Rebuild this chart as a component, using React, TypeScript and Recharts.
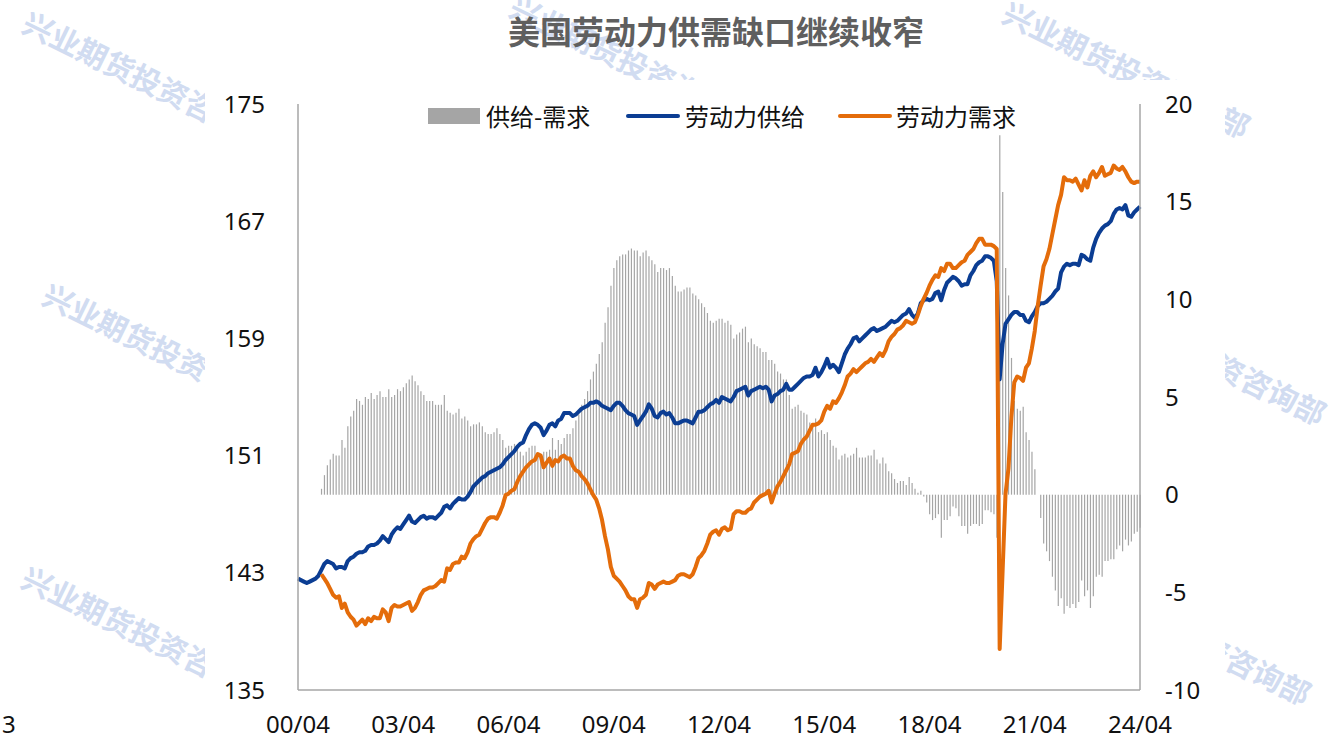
import { ComposedChart, Bar, Line, XAxis, YAxis } from 'recharts';

// monthly, 2000/04 .. 2024/04 (289 points)
const laborSupply = [
  142.6, 142.5, 142.4, 142.3, 142.4, 142.5, 142.6, 142.8, 143.2, 143.6, 143.8, 143.7,
  143.6, 143.3, 143.4, 143.4, 143.3, 143.8, 144.0, 144.1, 144.3, 144.4, 144.4, 144.5,
  144.8, 144.9, 144.9, 145.0, 145.2, 145.5, 145.3, 145.1, 145.6, 145.9, 146.1, 146.0,
  146.3, 146.6, 146.9, 146.5, 146.4, 146.6, 146.8, 146.9, 146.7, 146.8, 146.8, 146.7,
  146.9, 147.1, 147.5, 147.6, 147.4, 147.7, 147.9, 148.1, 148.0, 148.0, 148.2, 148.5,
  148.9, 149.1, 149.3, 149.5, 149.6, 149.8, 149.9, 150.0, 150.1, 150.2, 150.4, 150.7,
  150.9, 151.1, 151.3, 151.6, 151.8, 151.9, 152.4, 152.8, 153.1, 153.2, 153.1, 152.9,
  152.4, 152.7, 153.1, 153.2, 153.0, 153.4, 153.5, 153.9, 153.9, 153.9, 153.7, 153.8,
  154.0, 154.2, 154.3, 154.4, 154.6, 154.6, 154.7, 154.6, 154.4, 154.3, 154.2, 154.1,
  154.4, 154.6, 154.6, 154.4, 154.1, 153.9, 153.8, 153.7, 153.1, 153.4, 153.7, 154.0,
  154.5, 154.2, 153.7, 153.6, 153.9, 154.0, 153.8, 153.9, 153.6, 153.2, 153.2, 153.3,
  153.4, 153.4, 153.3, 153.2, 153.6, 154.0, 154.0, 154.1, 154.3, 154.5, 154.6, 154.8,
  154.6, 155.0, 154.9, 154.8, 154.7, 155.0, 155.4, 155.5, 155.6, 155.7, 155.1, 155.4,
  155.5, 155.6, 155.7, 155.6, 155.7, 155.5, 154.7, 155.1, 155.2, 155.4, 155.5, 155.9,
  155.5, 155.5, 155.7, 155.9, 156.1, 156.3, 156.4, 156.4, 156.5, 157.0, 156.4, 156.7,
  157.1, 157.6, 157.0, 157.2, 157.0, 156.7, 157.3, 157.9, 158.3, 158.6, 159.0, 159.1,
  158.8, 159.0, 159.2, 159.4, 159.6, 159.7, 159.5, 159.6, 159.7, 159.8, 160.0, 160.2,
  160.1, 160.2, 160.4, 160.6, 160.7, 161.0, 160.6, 160.4, 160.7, 161.4, 161.6, 161.7,
  161.6, 161.7, 162.1, 162.2, 161.6, 162.3, 162.8, 163.0, 163.2, 163.1, 162.9, 162.6,
  162.7, 162.7, 163.3, 163.6, 164.0, 164.2, 164.3, 164.6, 164.6, 164.5, 164.3, 162.9,
  156.2, 158.6, 160.0, 160.3, 160.6, 160.8, 160.8, 160.6, 160.6, 160.2, 160.1, 160.5,
  160.8, 161.2, 161.4, 161.4, 161.5, 161.7, 161.9, 162.2, 162.4, 163.5, 163.9, 164.1,
  164.0, 164.1, 164.1, 164.0, 164.7, 164.6, 164.4, 164.3, 165.2, 165.8, 166.2, 166.5,
  166.7, 166.8, 167.0, 167.5, 167.8, 167.9, 167.8, 168.1, 167.4, 167.3, 167.6, 167.8,
  168.0,
];

// demand and gap start at 2000/12
const demandStart = 8;
const laborDemand = [
  142.9, 142.6, 142.3, 141.9,
  141.5, 141.3, 141.4, 140.6, 140.9, 140.3, 140.0, 139.8, 139.4, 139.6, 139.8, 139.5,
  139.9, 139.7, 140.0, 139.9, 139.9, 140.5, 140.3, 139.7, 140.6, 140.8, 140.7, 140.7,
  140.8, 140.9, 141.0, 140.4, 140.6, 141.0, 141.5, 141.8, 141.9, 142.0, 142.0, 142.1,
  142.3, 142.5, 142.4, 143.3, 143.2, 143.6, 143.7, 143.7, 144.1, 144.0, 144.4, 145.0,
  145.3, 145.5, 145.6, 146.0, 146.4, 146.7, 146.8, 146.8, 146.7, 147.1, 147.6, 148.3,
  148.4, 148.6, 148.7, 149.2, 149.6, 149.9, 150.2, 150.4, 150.6, 150.7, 151.1, 151.0,
  150.2, 150.5, 150.8, 150.3, 150.7, 150.6, 150.9, 151.0, 150.8, 150.8, 150.3, 150.0,
  149.9, 149.6, 149.4, 149.1, 148.7, 148.3, 148.0, 147.4, 146.6, 145.5, 144.6, 143.4,
  142.8, 142.6, 142.4, 142.1, 141.8, 141.4, 141.2, 141.2, 140.6, 141.2, 141.3, 141.5,
  142.3, 142.2, 141.9, 142.2, 142.3, 142.4, 142.3, 142.3, 142.4, 142.5, 142.8, 142.9,
  142.9, 142.8, 142.7, 142.9, 143.4, 144.0, 144.2, 144.5, 145.0, 145.6, 145.8, 145.9,
  145.6, 146.0, 146.1, 145.9, 146.0, 147.0, 147.2, 147.2, 147.1, 147.1, 147.3, 147.4,
  147.8, 148.0, 148.2, 148.3, 148.4, 148.6, 147.8, 148.4, 148.9, 149.2, 149.6, 150.0,
  150.4, 151.1, 151.2, 151.3, 151.8, 152.1, 152.3, 152.7, 153.1, 153.1, 153.2, 153.4,
  154.0, 154.4, 154.2, 154.7, 154.6, 154.9, 155.3, 155.8, 156.4, 156.6, 156.9, 156.7,
  156.9, 157.1, 157.3, 157.4, 157.6, 157.4, 157.7, 158.0, 157.8, 158.2, 158.8, 159.1,
  159.3, 159.6, 159.7, 159.9, 160.2, 160.1, 160.0, 160.1, 160.6, 161.2, 161.7, 162.1,
  162.6, 163.0, 163.3, 163.2, 163.8, 163.6, 164.1, 164.1, 163.8, 163.8, 164.0, 164.2,
  164.3, 164.7, 164.9, 165.1, 165.5, 165.8, 165.8, 165.4, 165.4, 165.4, 165.3, 165.1,
  137.8, 143.1, 148.4, 150.1, 153.6, 156.0, 156.4, 156.3, 156.1, 157.0, 157.3, 158.3,
  159.5, 161.2, 162.6, 163.9, 164.4, 165.1, 166.1, 167.1, 168.1, 168.8, 170.0, 169.8,
  169.8, 169.7, 169.9, 169.5, 169.1, 169.8, 169.3, 170.1, 170.4, 170.0, 170.3, 170.7,
  170.1, 170.2, 170.3, 170.8, 170.6, 170.5, 170.7, 170.4, 170.0, 169.7, 169.6, 169.7,
  169.7,
];

const supplyDemandGap = [
  0.3, 1.0, 1.5, 1.8,
  2.1, 2.0, 2.0, 2.8, 2.4, 3.5, 4.0, 4.3, 4.9, 4.8, 4.6, 5.0,
  4.9, 5.2, 4.9, 5.1, 5.3, 5.0, 5.0, 5.4, 5.0, 5.1, 5.4, 5.3,
  5.5, 5.7, 5.9, 6.1, 5.8, 5.6, 5.3, 5.1, 4.8, 4.8, 4.8, 4.6,
  4.6, 4.6, 5.1, 4.3, 4.2, 4.1, 4.2, 4.4, 3.9, 4.0, 3.8, 3.5,
  3.6, 3.6, 3.7, 3.5, 3.2, 3.1, 3.1, 3.2, 3.4, 3.1, 2.8, 2.4,
  2.5, 2.5, 2.6, 2.4, 2.2, 2.0, 2.2, 2.4, 2.5, 2.5, 2.0, 1.9,
  2.2, 2.2, 2.3, 2.9, 2.3, 2.8, 2.6, 2.9, 3.1, 3.1, 3.4, 3.8,
  4.1, 4.6, 4.9, 5.3, 5.9, 6.3, 6.7, 7.2, 7.8, 8.8, 9.6, 10.7,
  11.6, 12.0, 12.2, 12.3, 12.3, 12.5, 12.6, 12.5, 12.5, 12.2, 12.4, 12.5,
  12.2, 12.0, 11.8, 11.4, 11.6, 11.6, 11.5, 11.6, 11.2, 10.7, 10.4, 10.4,
  10.5, 10.6, 10.6, 10.3, 10.2, 10.0, 9.8, 9.6, 9.3, 8.9, 8.8, 8.9,
  9.0, 9.0, 8.8, 8.9, 8.7, 8.0, 8.2, 8.3, 8.5, 8.6, 7.8, 8.0,
  7.7, 7.6, 7.5, 7.3, 7.3, 6.9, 6.9, 6.7, 6.3, 6.2, 5.9, 5.9,
  5.1, 4.4, 4.5, 4.6, 4.3, 4.2, 4.1, 3.7, 3.4, 3.9, 3.2, 3.3,
  3.1, 3.2, 2.8, 2.5, 2.4, 1.8, 2.0, 2.1, 1.9, 2.0, 2.1, 2.4,
  1.9, 1.9, 1.9, 2.0, 2.0, 2.3, 1.8, 1.6, 1.9, 1.6, 1.2, 1.1,
  0.8, 0.6, 0.7, 0.7, 0.5, 0.9, 0.6, 0.3, 0.1, 0.2, -0.1, -0.4,
  -1.0, -1.3, -1.2, -1.0, -2.2, -1.3, -1.3, -1.1, -0.6, -0.7, -1.1, -1.6,
  -1.6, -2.0, -1.6, -1.5, -1.5, -1.6, -1.5, -0.8, -0.8, -0.9, -1.0, -2.2,
  18.4, 15.5, 11.6, 10.2, 7.0, 4.8, 4.4, 4.3, 4.5, 3.2, 2.8, 2.2,
  1.3, 0.0, -1.2, -2.5, -2.9, -3.4, -4.2, -4.9, -5.7, -5.3, -6.1, -5.7,
  -5.8, -5.6, -5.8, -5.5, -4.4, -5.2, -4.9, -5.8, -5.2, -4.2, -4.1, -4.2,
  -3.4, -3.4, -3.3, -3.3, -2.8, -2.6, -2.9, -2.3, -2.6, -2.4, -2.0, -1.9,
  -1.7,
];

const xTickLabels = ['00/04', '03/04', '06/04', '09/04', '12/04', '15/04', '18/04', '21/04', '24/04'];
const xTicks = [0, 36, 72, 108, 144, 180, 216, 252, 288];
const leftTicks = [135, 143, 151, 159, 167, 175];
const rightTicks = [-10, -5, 0, 5, 10, 15, 20];

const data = laborSupply.map((s, i) => ({
  idx: i,
  supply: s,
  demand: i >= demandStart ? laborDemand[i - demandStart] : null,
  gap: i >= demandStart ? supplyDemandGap[i - demandStart] : null,
}));

const BLUE = '#0B3D93';
const ORANGE = '#E46C0A';
const GREY = '#A6A6A6';
const numFont = "'Noto Sans', 'Noto Sans CJK SC', sans-serif";
const cjkFont = "'Noto Sans CJK SC', sans-serif";

const watermarkText = '兴业期货投资咨询部';
const watermarks = [
  [20, 31], [507, 15], [1000, 21], [40, 303], [19, 586], [1076, 308], [1061, 588],
];

export default function App() {
  const tick = { fontSize: 24, fill: '#111', fontFamily: numFont };
  return (
    <div style={{ position: 'absolute', left: 0, top: 0, width: 1332, height: 742, background: '#fff', overflow: 'hidden' }}>
      <svg width={1332} height={742} style={{ position: 'absolute', left: 0, top: 0 }}>
        {watermarks.map(([x, y], i) => (
          <text key={i} transform={`translate(${x},${y}) rotate(26)`} fontSize={30} fontWeight={700}
            fontFamily={cjkFont} fill="#C9D6EF" opacity={0.85}>
            {watermarkText}
          </text>
        ))}
        <text x={2} y={733} fontSize={24} fontFamily={numFont} fill="#111">3</text>
      </svg>
      <div style={{ position: 'absolute', left: 205, top: 80, width: 1020, height: 662, background: '#fff' }} />
      <div style={{ position: 'absolute', left: 508, top: 12, fontSize: 32, lineHeight: '36px', fontWeight: 700, color: '#5F5F5F', fontFamily: cjkFont, whiteSpace: 'nowrap' }}>
        美国劳动力供需缺口继续收窄
      </div>
      <div style={{ position: 'absolute', left: 0, top: 0 }}>
        <ComposedChart width={1332} height={742} data={data} margin={{ top: 104, right: 112, bottom: 12, left: 218 }}>
          <XAxis dataKey="idx" type="number" domain={[0, 288]} ticks={xTicks} interval={0}
            tickFormatter={(v: number) => xTickLabels[Math.round(v / 36)]}
            tickLine={false} tickSize={0} tickMargin={26} height={40}
            axisLine={{ stroke: GREY, strokeWidth: 1.5 }} tick={tick} />
          <YAxis yAxisId="left" domain={[135, 175]} ticks={leftTicks} interval={0} width={80}
            tickLine={false} tickSize={0} tickMargin={33}
            axisLine={{ stroke: GREY, strokeWidth: 1.5 }} tick={tick} />
          <YAxis yAxisId="right" orientation="right" domain={[-10, 20]} ticks={rightTicks} interval={0} width={80}
            tickLine={false} tickSize={0} tickMargin={25}
            axisLine={{ stroke: GREY, strokeWidth: 1.5 }} tick={tick} />
          <Bar yAxisId="right" dataKey="gap" fill="#A5A5A5" barSize={1.2} isAnimationActive={false} />
          <Line yAxisId="left" type="linear" dataKey="supply" stroke={BLUE} strokeWidth={4}
            dot={false} activeDot={false} strokeLinejoin="round" isAnimationActive={false} />
          <Line yAxisId="left" type="linear" dataKey="demand" stroke={ORANGE} strokeWidth={4}
            dot={false} activeDot={false} strokeLinejoin="round" isAnimationActive={false} />
        </ComposedChart>
      </div>
      {/* legend */}
      <div style={{ position: 'absolute', left: 428, top: 108, width: 52, height: 16, background: '#A5A5A5' }} />
      <div style={{ position: 'absolute', left: 486, top: 102, fontSize: 24, lineHeight: '28px', fontFamily: cjkFont, color: '#111' }}>供给-需求</div>
      <div style={{ position: 'absolute', left: 626, top: 114, width: 54, height: 4, borderRadius: 2, background: BLUE }} />
      <div style={{ position: 'absolute', left: 685, top: 102, fontSize: 24, lineHeight: '28px', fontFamily: cjkFont, color: '#111' }}>劳动力供给</div>
      <div style={{ position: 'absolute', left: 838, top: 114, width: 54, height: 4, borderRadius: 2, background: ORANGE }} />
      <div style={{ position: 'absolute', left: 896, top: 102, fontSize: 24, lineHeight: '28px', fontFamily: cjkFont, color: '#111' }}>劳动力需求</div>
    </div>
  );
}
